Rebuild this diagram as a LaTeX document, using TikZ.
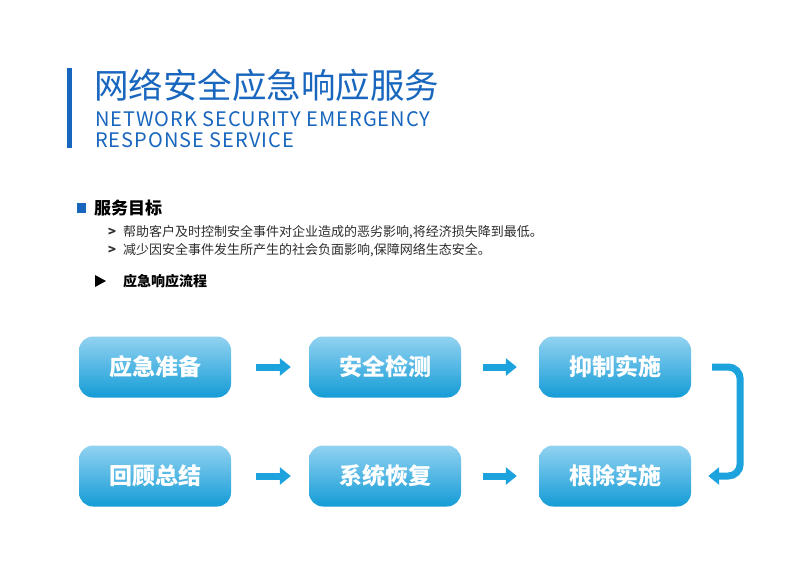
\documentclass[tikz,border=0pt]{standalone}
\usepackage{fontspec}
\setmainfont{Noto Sans CJK SC}
\usepackage{xcolor}
\usetikzlibrary{arrows.meta}
\definecolor{titleblue}{RGB}{24,102,190}
\definecolor{boxtop}{RGB}{146,210,241}
\definecolor{boxbot}{RGB}{20,156,214}
\definecolor{arrowblue}{RGB}{28,162,220}
\definecolor{bodygray}{RGB}{45,45,45}

\begin{document}
\begin{tikzpicture}[x=1pt,y=-1pt,
    stepbox/.style={rounded corners=14pt,top color=boxtop,bottom color=boxbot,
      minimum width=152pt,minimum height=61pt,inner sep=0pt,
      text=white,font=\fontsize{23}{23}\selectfont\bfseries},
    headtext/.style={anchor=west,inner sep=0pt,text=titleblue},
    bodytext/.style={anchor=west,inner sep=0pt,text=bodygray,font=\fontsize{13}{13}\selectfont},
    flow/.style={arrowblue,line width=7pt,-{Triangle[length=11pt,width=17pt]}}]
      \useasboundingbox (0,0) rectangle (802,569);
      \fill [white] (0,0) rectangle (802,569);
%%
      \fill [titleblue] (67,68) rectangle (72,148);
      \node (title) [headtext,font=\fontsize{34.5}{34.5}\selectfont] at (94,85) {网络安全应急响应服务};
      \node (entitle1) [headtext,font=\fontsize{20}{20}\selectfont\addfontfeatures{LetterSpace=5}] at (95,119) {NETWORK SECURITY EMERGENCY};
      \node (entitle2) [headtext,font=\fontsize{20}{20}\selectfont\addfontfeatures{LetterSpace=5}] at (95,140) {RESPONSE SERVICE};
%%
      \fill [titleblue] (77,203) rectangle (86,213);
      \node (goal) [anchor=west,inner sep=0pt,font=\fontsize{17}{17}\selectfont\bfseries] at (94,208) {服务目标};
      \node (gt1) [bodytext,font=\fontsize{13}{13}\selectfont\bfseries] at (108,232) {>};
      \node (goal1) [bodytext] at (123,232) {帮助客户及时控制安全事件对企业造成的恶劣影响,将经济损失降到最低。};
      \node (gt2) [bodytext,font=\fontsize{13}{13}\selectfont\bfseries] at (108,250) {>};
      \node (goal2) [bodytext] at (123,250) {减少因安全事件发生所产生的社会负面影响,保障网络生态安全。};
      \fill [black] (95,275) -- (106,281) -- (95,287) -- cycle;
      \node (process) [anchor=west,inner sep=0pt,font=\fontsize{14}{14}\selectfont\bfseries] at (123,281) {应急响应流程};
%%
      \node (prep) [stepbox] at (155,367) {应急准备};
      \node (detect) [stepbox] at (385,367) {安全检测};
      \node (contain) [stepbox] at (615,367) {抑制实施};
      \node (review) [stepbox] at (155,476) {回顾总结};
      \node (restore) [stepbox] at (385,476) {系统恢复};
      \node (eradicate) [stepbox] at (615,476) {根除实施};
%%
      \draw [flow,shorten <=25pt,shorten >=18pt] (prep) -- (detect);
      \draw [flow,shorten <=22pt,shorten >=22pt] (detect) -- (contain);
      \draw [flow,shorten <=25pt,shorten >=18pt] (review) -- (restore);
      \draw [flow,shorten <=22pt,shorten >=22pt] (restore) -- (eradicate);
      \draw [flow,rounded corners=12pt,shorten >=17pt] ([xshift=21pt]contain.east) -- ++(28,0) |- (eradicate.east);
    \end{tikzpicture}
\end{document}
